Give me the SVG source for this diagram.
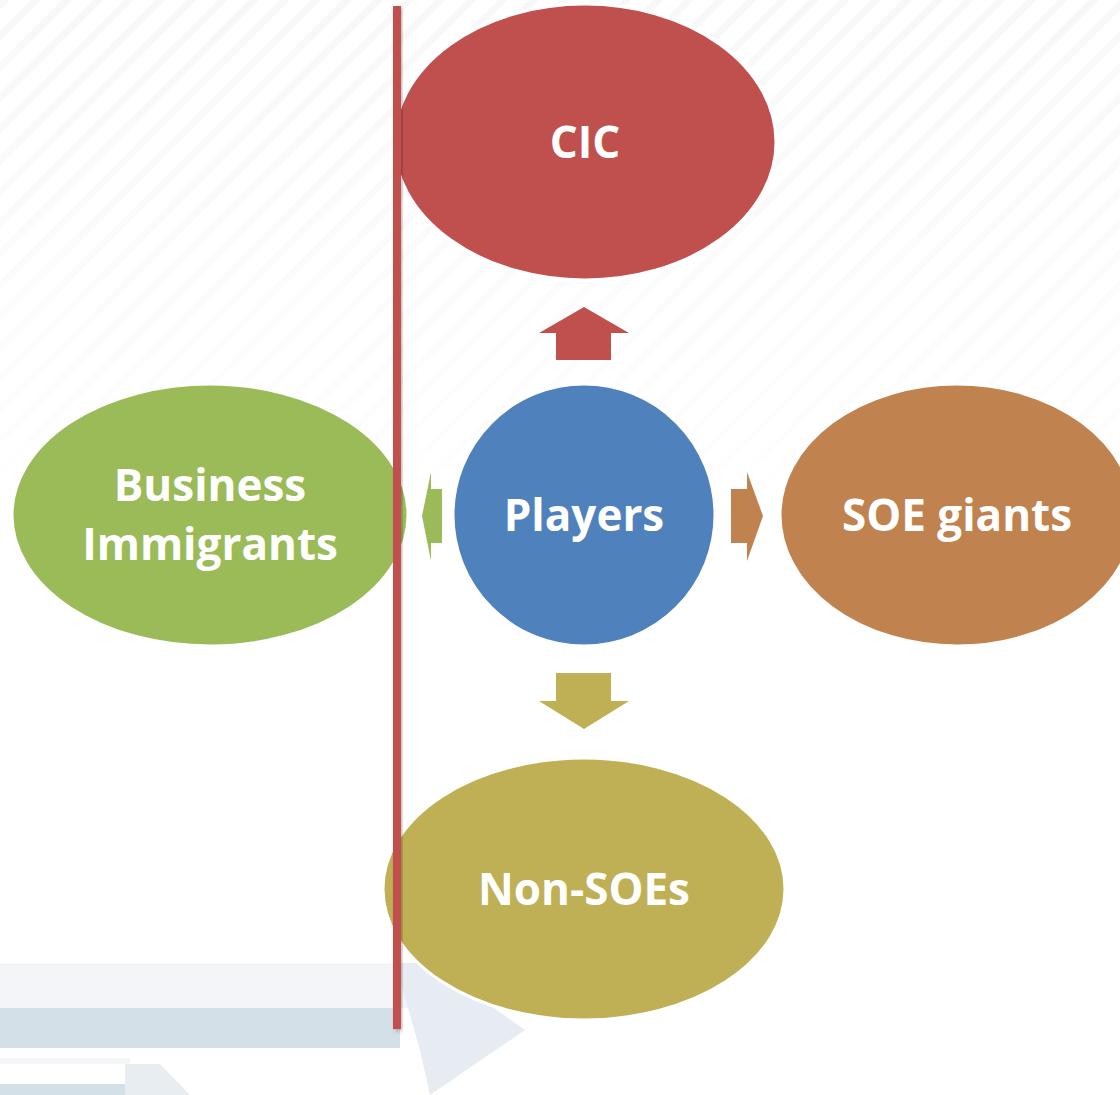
<svg xmlns="http://www.w3.org/2000/svg" width="1120" height="1095" viewBox="0 0 1120 1095">
<defs>
<pattern id="stripes" width="22" height="22" patternUnits="userSpaceOnUse" patternTransform="rotate(45)">
<rect width="22" height="22" fill="#ffffff"/>
<rect width="7" height="22" fill="#f8f8f8"/>
</pattern>
<linearGradient id="fade" x1="0" y1="0" x2="0" y2="1">
<stop offset="0" stop-color="#fff" stop-opacity="0"/>
<stop offset="1" stop-color="#fff" stop-opacity="1"/>
</linearGradient>
<filter id="sh" x="-10%" y="-10%" width="130%" height="130%">
<feDropShadow dx="2" dy="2" stdDeviation="2" flood-color="#000" flood-opacity="0.25"/>
</filter>
</defs>
<style>
.node ellipse, .node circle { stroke: #ffffff; stroke-width: 3; }
.lbl { font-family: "Open Sans", "Liberation Sans", sans-serif; font-weight: bold; font-size: 44px; fill: #ffffff; text-anchor: middle; }
</style>
<g id="background">
<rect width="1120" height="1095" fill="#ffffff"/>
<rect width="1120" height="560" fill="url(#stripes)"/>
<rect width="1120" height="560" fill="url(#fade)"/>
<rect x="0" y="963" width="430" height="45" fill="#f3f5f8"/>
<rect x="0" y="1008" width="400" height="40" fill="#d4e0e8"/>
<polygon points="395,963 430,963 525,1030 430,1095 420,1050" fill="#e6ecf2"/>
<rect x="0" y="1058" width="130" height="6" fill="#f3f5f8"/>
<rect x="0" y="1084" width="125" height="11" fill="#d4e0e8"/>
<polygon points="125,1064 160,1064 190,1095 125,1095" fill="#e8edf2"/>
</g>
<g id="connectors">
<polygon id="arrow-up" points="584,307 629,333 611,333 611,360 556,360 556,333 539,333" fill="#c0504d"/>
<polygon id="arrow-left" points="422,516 431,472 431,489 442,489 442,543 431,543 431,561" fill="#9bbb59"/>
<polygon id="arrow-right" points="763,516 747,472 747,489 731,489 731,543 747,543 747,561" fill="#c0834f"/>
<polygon id="arrow-down" points="584,729 629,701 611,701 611,673 556,673 556,701 539,701" fill="#bfb055"/>
</g>
<g id="node-cic" class="node">
<ellipse cx="585" cy="142" rx="191" ry="138" fill="#c0504d"/>
<text class="lbl" x="585" y="158">CIC</text>
</g>
<g id="node-business" class="node">
<ellipse cx="210" cy="515" rx="198" ry="131" fill="#9bbb59"/>
<text class="lbl" x="210" y="501">Business</text>
<text class="lbl" x="210" y="560">Immigrants</text>
</g>
<g id="node-players" class="node">
<circle cx="584" cy="515" r="131" fill="#4f81bd"/>
<text class="lbl" x="584" y="531">Players</text>
</g>
<g id="node-soe" class="node">
<ellipse cx="957" cy="515" rx="177" ry="131" fill="#c0834f"/>
<text class="lbl" x="957" y="531">SOE giants</text>
</g>
<g id="node-nonsoe" class="node">
<ellipse cx="584" cy="889" rx="201" ry="131" fill="#bfb055"/>
<text class="lbl" x="584" y="905">Non-SOEs</text>
</g>
<g id="divider">
<rect x="393" y="6" width="8" height="1023" fill="#c0504d" filter="url(#sh)"/>
</g>
</svg>
